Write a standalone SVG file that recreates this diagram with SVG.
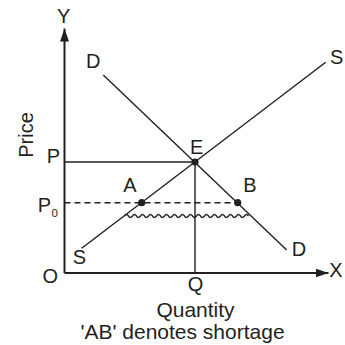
<svg xmlns="http://www.w3.org/2000/svg" width="345" height="345" viewBox="0 0 345 345">
<style>
text{font-family:"Liberation Sans",Arial,sans-serif;font-size:20px;fill:#231f20}
.big{font-size:21px}
.ax{stroke:#231f20;stroke-width:2;fill:none}
.ln{stroke:#231f20;stroke-width:1.4;fill:none}
.dot{fill:#231f20}
</style>
<defs>
<marker id="arr" markerWidth="13" markerHeight="9" refX="13" refY="4.5" orient="auto" markerUnits="userSpaceOnUse">
<path d="M0,0 L13,4.5 L0,9 Z" fill="#231f20"/>
</marker>
</defs>
<g id="connectors">
<path id="y-axis" class="ax" d="M64.5,273 V28.5" marker-end="url(#arr)"/>
<path id="x-axis" class="ax" d="M64.5,273 H328.5" marker-end="url(#arr)"/>
<path id="supply" class="ln" d="M81.7,248.3 L325.7,62.3"/>
<path id="demand" class="ln" d="M103.3,75 L286.7,250"/>
<path id="p-line" class="ln" d="M64.5,162 H195"/>
<path id="q-line" class="ln" d="M195,162 V273"/>
<path id="p0-line" class="ln" stroke-dasharray="6,4" d="M64.5,202.7 H237.7"/>
<path id="shortage" class="ln" d="M124.5,216 q2,-3 4,0 t4,0 t4,0 t4,0 t4,0 t4,0 t4,0 t4,0 t4,0 t4,0 t4,0 t4,0 t4,0 t4,0 t4,0 t4,0 t4,0 t4,0 t4,0 t4,0 t4,0 t4,0 t4,0 t4,0 t4,0 t4,0 t4,0 t4,0 t4,0 t4,0 t4,0"/>
</g>
<g id="node-E"><circle class="dot" cx="195" cy="162" r="3.6"/><text x="190" y="154.3">E</text></g>
<g id="node-A"><circle class="dot" cx="141.7" cy="202.7" r="3.6"/><text x="123.3" y="192.3">A</text></g>
<g id="node-B"><circle class="dot" cx="237.7" cy="202.7" r="3.6"/><text x="243.3" y="192.3">B</text></g>
<g id="labels">
<text x="63.7" y="22.7" text-anchor="middle">Y</text>
<text x="329.3" y="276.7">X</text>
<text x="42.5" y="282.5">O</text>
<text x="195.5" y="291" text-anchor="middle">Q</text>
<text x="46.7" y="162.7">P</text>
<text x="37.7" y="211.7">P<tspan font-size="11.5" dx="0.5" dy="5.6">0</tspan></text>
<text x="86" y="67.7">D</text>
<text x="291.7" y="256">D</text>
<text x="330" y="64">S</text>
<text x="72.7" y="264">S</text>
<text transform="translate(33.3,135) rotate(-90)" text-anchor="middle">Price</text>
<text class="big" x="195.5" y="317.3" text-anchor="middle">Quantity</text>
<text class="big" x="182.5" y="339" text-anchor="middle">'AB' denotes shortage</text>
</g>
</svg>
